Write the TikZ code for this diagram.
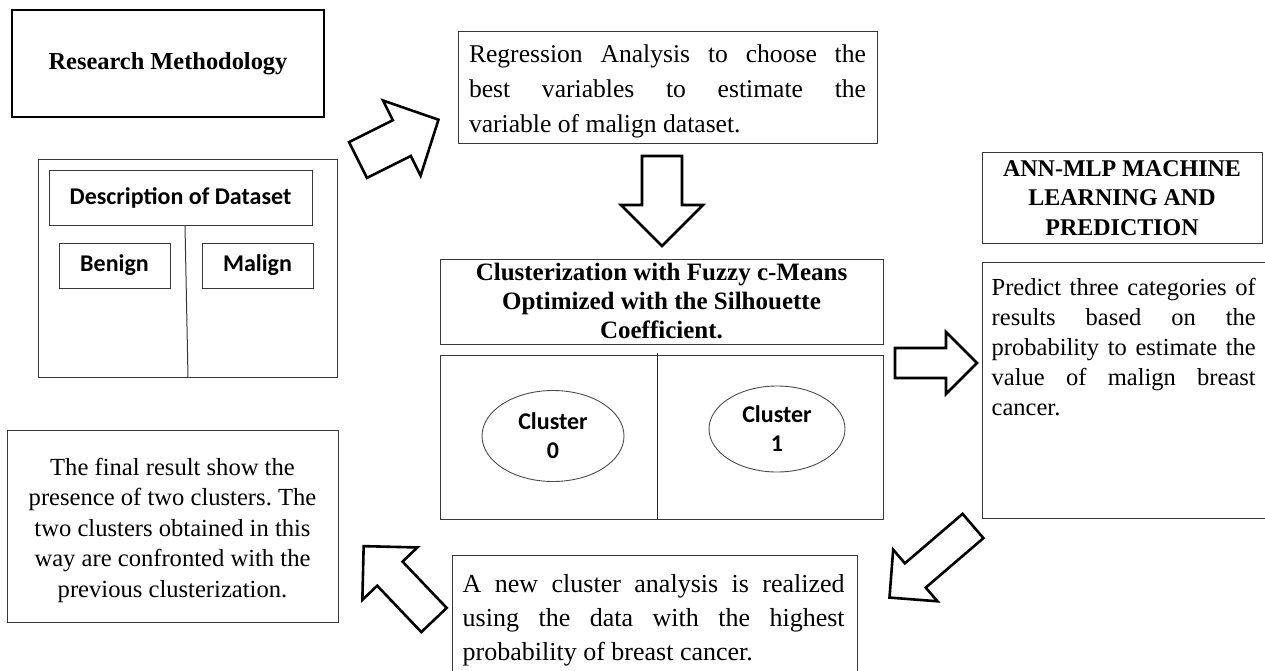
\documentclass[tikz,border=0pt]{standalone}
\usepackage{fontspec}
\setmainfont{Liberation Serif}
\newfontfamily\calib{Carlito}
\usetikzlibrary{shapes.geometric}
\hyphenpenalty=10000
\exhyphenpenalty=10000
\frenchspacing

% hollow block arrow: tail centre (x,y), direction angle, length,
% shaft width, head width, head length
\newcommand\hollowarrow[7]{%
  \draw[arrowline, shift={(#1,#2)}, rotate=#3]
    (0,#5/2) -- (#4-#7,#5/2) -- (#4-#7,#6/2) -- (#4,0)
    -- (#4-#7,-#6/2) -- (#4-#7,-#5/2) -- (0,-#5/2) -- cycle;}

\begin{document}
\begin{tikzpicture}[x=1pt,y=-1pt,
  frame/.style={draw=black!78, line width=1pt, inner sep=0pt},
  heavyframe/.style={draw=black, line width=2.6pt, inner sep=0pt},
  arrowline/.style={draw=black, line width=2.6pt, fill=white, line join=miter},
  calibold/.style={font=\calib\bfseries\fontsize{24}{28}\selectfont},
  ovalbox/.style={ellipse, draw=black!70, line width=0.9pt, inner sep=0pt,
    align=center, font=\calib\bfseries\fontsize{24}{29}\selectfont}]

\fill[white] (0,0) rectangle (1265,671);
\useasboundingbox (0,0) rectangle (1265,671);

% title
\node[heavyframe, minimum width=312, minimum height=107,
  font=\bfseries\fontsize{24.4}{28}\selectfont] (method) at (168,63.5) {Research Methodology};

% dataset description
\node[frame, minimum width=299, minimum height=217] (dataset) at (187.5,268.5) {};
\node[frame, calibold, minimum width=263, minimum height=54] (desc) at (180.5,198) {Description of Dataset};
\node[frame, calibold, minimum width=111, minimum height=45] (benign) at (114.5,265.5) {Benign};
\node[frame, calibold, minimum width=111, minimum height=45] (malign) at (257.5,265.5) {Malign};
\draw[draw=black!78, line width=1pt] ([xshift=4.5pt]desc.south) -- ([xshift=0.5pt]dataset.south);

% regression step
\node[frame, minimum width=419, minimum height=112] (regress) at (667.5,88) {};
\node[inner sep=0pt, text width=397, align=justify,
  font=\fontsize{25.6}{35}\selectfont] (regresstext) at ([yshift=-3pt]regress.center)
  {Regression Analysis to choose the\linebreak best variables to estimate the\linebreak variable of malign dataset.};

% fuzzy c-means step
\node[frame, minimum width=443, minimum height=85, align=center,
  font=\bfseries\fontsize{25}{29}\selectfont] (fcm) at (661.5,301.5)
  {Clusterization with Fuzzy c-Means\\Optimized with the Silhouette\\Coefficient.};
\node[frame, minimum width=443, minimum height=164] (clusters) at (661.5,437) {};
\draw[draw=black!85, line width=1pt] ([xshift=-4.5pt,yshift=2pt]clusters.north) -- ([xshift=-4.5pt]clusters.south);
\node[ovalbox, minimum width=142, minimum height=91] (c0) at (553,436) {Cluster\\0};
\node[ovalbox, minimum width=136, minimum height=86] (c1) at (777,429) {Cluster\\1};

% ANN-MLP step
\node[frame, minimum width=280, minimum height=90, align=center,
  font=\bfseries\fontsize{24}{29.5}\selectfont] (ann) at (1122,198)
  {ANN-MLP MACHINE\\LEARNING AND\\PREDICTION};
\node[frame, minimum width=284, minimum height=256] (predict) at (1124,390) {};
\node[anchor=north west, inner sep=0pt, text width=264, align=justify,
  font=\fontsize{24.5}{30}\selectfont] (predicttext) at ([xshift=10pt,yshift=-16.3pt]predict.north west)
  {Predict three categories of\linebreak results based on the\linebreak probability to estimate the\linebreak value of malign breast\linebreak cancer.};

% second cluster analysis
\node[frame, minimum width=405, minimum height=125] (newcl) at (654.5,617.5) {};
\node[anchor=north west, inner sep=0pt, text width=382, align=justify,
  font=\fontsize{26}{34}\selectfont] (newtext) at ([xshift=11pt,yshift=-20pt]newcl.north west)
  {A new cluster analysis is realized\linebreak using the data with the highest\linebreak probability of breast cancer.};

% final result
\node[frame, minimum width=331, minimum height=192] (final) at (172.5,526) {};
\node[inner sep=0pt, align=center, font=\fontsize{24.6}{30.5}\selectfont] (finaltext)
  at ([yshift=-4pt]final.center)
  {The final result show the\\presence of two clusters. The\\two clusters obtained in this\\way are confronted with the\\previous clusterization.};

% flow arrows
\hollowarrow{358}{160}{26.6}{90}{40}{84}{41}
\hollowarrow{662}{156}{-90}{90}{40}{82}{41}
\hollowarrow{895}{363}{0}{82}{30}{62}{31}
\hollowarrow{973}{526}{220.6}{110}{32}{68}{34}
\hollowarrow{434}{620}{133.6}{102}{35}{76}{38}

\end{tikzpicture}
\end{document}
